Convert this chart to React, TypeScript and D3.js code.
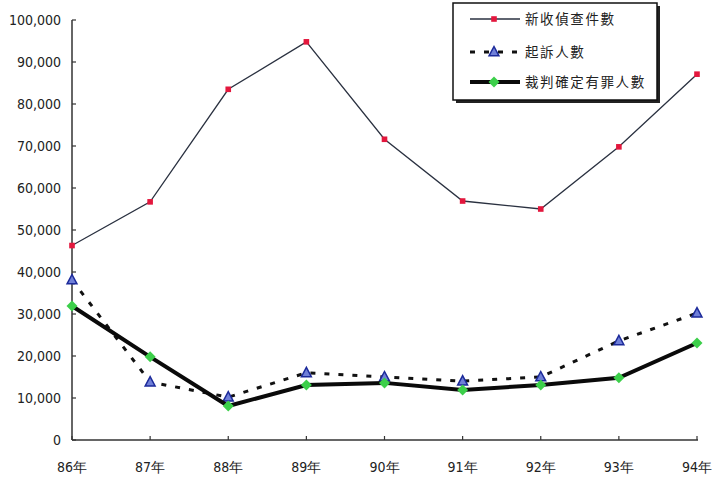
import React from "react";
import * as d3 from "d3";

const years = ["86年", "87年", "88年", "89年", "90年", "91年", "92年", "93年", "94年"];
const newCases = [46300, 56700, 83500, 94800, 71600, 56900, 55000, 69800, 87100];
const prosecuted = [38100, 13800, 10200, 16000, 15000, 14000, 15000, 23600, 30200];
const convicted = [31900, 19800, 8100, 13100, 13600, 11900, 13100, 14800, 23100];
const yTicks = [0, 10000, 20000, 30000, 40000, 50000, 60000, 70000, 80000, 90000, 100000];
const seriesNames = ["新收偵查件數", "起訴人數", "裁判確定有罪人數"];

const W = 713;
const H = 481;

export default function App() {
  const x = d3.scalePoint<string>().domain(years).range([72, 697]);
  const y = d3.scaleLinear().domain([0, 100000]).range([440, 20]);
  const line = d3
    .line<number>()
    .x((_, i) => x(years[i]) as number)
    .y((d) => y(d));
  const fmt = d3.format(",");
  const tickFont = "'DejaVu Sans Condensed', 'DejaVu Sans', sans-serif";
  const cjk = "'Noto Sans CJK TC', sans-serif";

  const tri = (cx: number, cy: number, s: number) =>
    `M${cx},${cy - s} L${cx + s * 0.9},${cy + s * 0.7} L${cx - s * 0.9},${cy + s * 0.7} Z`;
  const diamond = (cx: number, cy: number, s: number) =>
    `M${cx},${cy - s} L${cx + s},${cy} L${cx},${cy + s} L${cx - s},${cy} Z`;

  const legendRows = [19, 52, 82];

  return (
    <svg
      width={W}
      height={H}
      style={{ position: "absolute", left: 0, top: 0, background: "#fff" }}
    >
      <rect x={0} y={0} width={W} height={H} fill="#fff" />
      {/* axes */}
      <line x1={72} x2={72} y1={y(100000)} y2={y(0)} stroke="#333" strokeWidth={1.5} />
      <line x1={72} x2={698} y1={y(0)} y2={y(0)} stroke="#333" strokeWidth={1.5} />
      {yTicks.map((t) => (
        <g key={t}>
          <line x1={72} x2={76} y1={y(t)} y2={y(t)} stroke="#333" strokeWidth={1.2} />
          <text
            x={61}
            y={y(t)}
            dy="0.35em"
            textAnchor="end"
            fontFamily={tickFont}
            fontSize={14}
            fill="#222"
          >
            {fmt(t)}
          </text>
        </g>
      ))}
      {years.map((yr) => (
        <g key={yr}>
          <line x1={x(yr)} x2={x(yr)} y1={y(0)} y2={y(0) - 4} stroke="#333" strokeWidth={1.2} />
          <text
            x={x(yr)}
            y={467}
            dy="0.35em"
            textAnchor="middle"
            fontFamily={tickFont}
            fontSize={14}
            fill="#222"
          >
            {yr}
          </text>
        </g>
      ))}

      {/* series 1 */}
      <path d={line(newCases) || ""} fill="none" stroke="#2a3140" strokeWidth={1.3} />
      {newCases.map((v, i) => (
        <rect
          key={i}
          x={(x(years[i]) as number) - 2.8}
          y={y(v) - 2.8}
          width={5.6}
          height={5.6}
          fill="#e3173d"
        />
      ))}

      {/* series 2 */}
      <path
        d={line(prosecuted) || ""}
        fill="none"
        stroke="#111"
        strokeWidth={3}
        strokeDasharray="5 9"
      />
      {prosecuted.map((v, i) => (
        <path
          key={i}
          d={tri(x(years[i]) as number, y(v), 5.5)}
          fill="#6f7fd8"
          stroke="#1c2a9a"
          strokeWidth={1.5}
        />
      ))}

      {/* series 3 */}
      <path d={line(convicted) || ""} fill="none" stroke="#0a0a0a" strokeWidth={4} />
      {convicted.map((v, i) => (
        <path
          key={i}
          d={diamond(x(years[i]) as number, y(v), 5.5)}
          fill="#3ccf4a"
        />
      ))}

      {/* legend */}
      <rect x={456} y={6} width={204} height={97} fill="#222" />
      <rect x={453} y={3} width={204} height={97} fill="#fff" stroke="#111" strokeWidth={1.5} />
      <line x1={470} x2={520} y1={legendRows[0]} y2={legendRows[0]} stroke="#2a3140" strokeWidth={1.3} />
      <rect x={491.2} y={legendRows[0] - 2.8} width={5.6} height={5.6} fill="#e3173d" />
      <line
        x1={470}
        x2={520}
        y1={legendRows[1]}
        y2={legendRows[1]}
        stroke="#111"
        strokeWidth={3}
        strokeDasharray="5 9"
      />
      <path d={tri(494, legendRows[1], 5.5)} fill="#6f7fd8" stroke="#1c2a9a" strokeWidth={1.5} />
      <line x1={470} x2={520} y1={legendRows[2]} y2={legendRows[2]} stroke="#0a0a0a" strokeWidth={4} />
      <path d={diamond(494, legendRows[2], 5.5)} fill="#3ccf4a" />
      {seriesNames.map((n, i) => (
        <text
          key={n}
          x={525}
          y={legendRows[i]}
          dy="0.35em"
          fontFamily={cjk}
          fontSize={13.5}
          letterSpacing={1.6}
          fill="#222"
        >
          {n}
        </text>
      ))}
    </svg>
  );
}
